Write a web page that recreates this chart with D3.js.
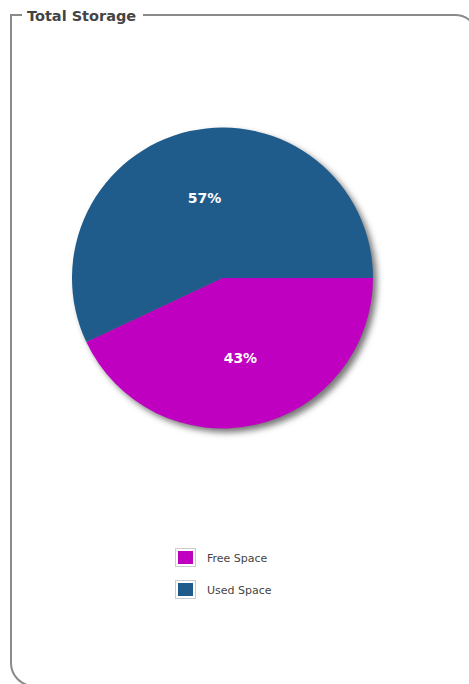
<!DOCTYPE html>
<meta charset="utf-8">
<head>
<style>
  body { margin: 0; background: #fff; }
</style>
</head>
<body>
<script src="https://d3js.org/d3.v7.min.js"></script>
<div id="chart"></div>
<script>
    // data
    var categories = ["Free Space", "Used Space"],
        values = [43, 57],
        colors = ["#c000c0", "#1f5c8c"];

    var width = 469, height = 684;
    var cx = 222.5, cy = 278, radius = 150.5;

    var svg = d3.select("#chart")
      .append("svg")
        .attr("width", width)
        .attr("height", height);

    // shadow filter
    var defs = svg.append("defs");
    var filt = defs.append("filter")
        .attr("id", "shadow")
        .attr("x", "-20%").attr("y", "-20%")
        .attr("width", "140%").attr("height", "140%");
    filt.append("feGaussianBlur").attr("stdDeviation", 3);

    // group box border (right and bottom edges fall outside the window)
    var bx = 11, by = 15, bw = 467, bh = 671, rr = 23;
    var titleStart = 22, titleEnd = 143;
    var border = d3.path();
    border.moveTo(titleEnd, by);
    border.lineTo(bx + bw - rr, by);
    border.arcTo(bx + bw, by, bx + bw, by + rr, rr);
    border.lineTo(bx + bw, by + bh);
    border.moveTo(bx + bw - rr, by + bh);
    border.lineTo(bx + rr, by + bh);
    border.arcTo(bx, by + bh, bx, by + bh - rr, rr);
    border.lineTo(bx, by);
    border.lineTo(titleStart, by);
    svg.append("path")
        .attr("d", border.toString())
        .attr("fill", "none")
        .attr("stroke", "#8a8a8a")
        .attr("stroke-width", 2);

    svg.append("text")
        .attr("x", 27)
        .attr("y", 21)
        .attr("font-family", "DejaVu Sans, Verdana, sans-serif")
        .attr("font-weight", "bold")
        .attr("font-size", "14.5px")
        .attr("fill", "#444")
        .text("Total Storage");

    // pie
    var pie = d3.pie()
        .sort(null)
        .startAngle(Math.PI / 2)
        .endAngle(Math.PI / 2 + 2 * Math.PI)
        .value(function(d) { return d; });
    var arcs = pie(values);

    var arc = d3.arc().innerRadius(0).outerRadius(radius);
    var labelArc = d3.arc().innerRadius(82).outerRadius(82);

    var g = svg.append("g")
        .attr("transform", "translate(" + cx + "," + cy + ")");

    g.append("circle")
        .attr("cx", 4)
        .attr("cy", 4)
        .attr("r", radius)
        .attr("fill", "#777")
        .attr("filter", "url(#shadow)");

    g.selectAll("path.slice")
        .data(arcs)
        .enter().append("path")
        .attr("class", "slice")
        .attr("d", arc)
        .attr("fill", function(d, i) { return colors[i]; });

    g.selectAll("text.lbl")
        .data(arcs)
        .enter().append("text")
        .attr("class", "lbl")
        .attr("transform", function(d) { return "translate(" + labelArc.centroid(d) + ")"; })
        .attr("text-anchor", "middle")
        .attr("dy", "0.35em")
        .attr("font-family", "DejaVu Sans, Tahoma, sans-serif")
        .attr("font-weight", "bold")
        .attr("font-size", "14px")
        .attr("fill", "#fff")
        .text(function(d) { return d.data + "%"; });

    // legend
    var legend = svg.append("g")
        .attr("transform", "translate(175,548)");
    var items = legend.selectAll("g")
        .data(categories)
        .enter().append("g")
        .attr("transform", function(d, i) { return "translate(0," + (i * 32) + ")"; });
    items.append("rect")
        .attr("x", 0.5).attr("y", 0.5)
        .attr("width", 20).attr("height", 18)
        .attr("fill", "#fff")
        .attr("stroke", "#ccc");
    items.append("rect")
        .attr("x", 3).attr("y", 3)
        .attr("width", 15).attr("height", 13)
        .attr("fill", function(d, i) { return colors[i]; });
    items.append("text")
        .attr("x", 32)
        .attr("y", 14)
        .attr("font-family", "DejaVu Sans, Verdana, sans-serif")
        .attr("font-size", "11px")
        .attr("fill", "#444")
        .text(function(d) { return d; });
</script>
</body>
